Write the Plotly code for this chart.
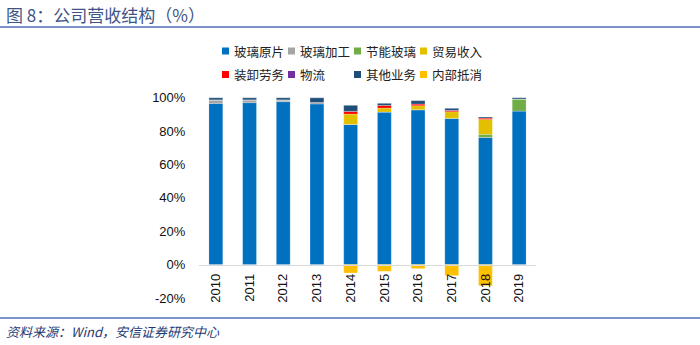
import plotly.graph_objects as go

# Revenue structure by business segment, share of total revenue (%)
years = ["2010", "2011", "2012", "2013", "2014", "2015", "2016", "2017", "2018", "2019"]
glass_sheet = [96.5, 97.0, 97.6, 96.2, 84.0, 91.4, 92.8, 87.6, 76.2, 92.0]
glass_processing = [2.2, 1.7, 1.1, 0.9, 0.0, 0.0, 0.0, 0.0, 0.0, 0.0]
energy_saving_glass = [0.0, 0.0, 0.0, 0.0, 0.0, 0.0, 0.0, 0.0, 1.8, 7.2]
trade_income = [0.0, 0.0, 0.0, 0.0, 6.2, 2.4, 2.4, 4.0, 9.0, 0.0]
loading_services = [0.0, 0.0, 0.0, 0.0, 1.6, 1.6, 1.0, 0.8, 0.8, 0.0]
logistics = [0.0, 0.0, 0.0, 0.0, 0.0, 0.0, 0.0, 0.0, 0.0, 0.0]
other_business = [1.3, 1.3, 1.3, 2.9, 3.6, 1.2, 2.0, 1.2, 0.6, 0.8]
internal_offset = [0.0, 0.0, 0.0, 0.0, -5.0, -4.0, -2.4, -6.6, -12.6, 0.0]

series_names = ["玻璃原片", "玻璃加工", "节能玻璃", "贸易收入",
                "装卸劳务", "物流", "其他业务", "内部抵消"]
series_values = [glass_sheet, glass_processing, energy_saving_glass, trade_income,
                 loading_services, logistics, other_business, internal_offset]
series_colors = ["#0070C0", "#A5A5A5", "#70AD47", "#E2C000",
                 "#FF0000", "#7030A0", "#1F4E79", "#FFC000"]

y_ticks = [-20, 0, 20, 40, 60, 80, 100]
y_tick_labels = ["-20%", "0%", "20%", "40%", "60%", "80%", "100%"]
y_range = [-20, 101]

W, H = 700, 345
L, R, T, B = 199, 164, 96, 47
PW, PH = W - L - R, H - T - B


def px_x(p):
    return (p - L) / PW


def px_y(p):
    return 1 - (p - T) / PH


fig = go.Figure()
for name, vals, col in zip(series_names, series_values, series_colors):
    fig.add_trace(go.Bar(
        x=years, y=vals, name=name,
        marker=dict(color=col, line=dict(color="rgba(255,255,255,0.5)", width=0.4)),
        showlegend=False,
    ))

zero_pos = (0 - y_range[0]) / (y_range[1] - y_range[0])

fig.update_layout(
    width=W, height=H,
    margin=dict(l=L, r=R, t=T, b=B),
    barmode="relative",
    bargap=0.59,
    plot_bgcolor="white",
    paper_bgcolor="white",
    font=dict(family="Liberation Sans, Arial, sans-serif", size=13, color="#222222"),
    xaxis=dict(
        type="category",
        anchor="free", position=zero_pos,
        showline=True, linecolor="#D9D9D9", linewidth=1,
        showgrid=False, tickangle=-90,
        ticks="outside", ticklen=3, tickcolor="rgba(0,0,0,0)",
        tickfont=dict(size=13, color="#111111"),
    ),
    yaxis=dict(
        range=y_range, tickmode="array", tickvals=y_ticks, ticktext=y_tick_labels,
        showgrid=False, zeroline=False, showline=False,
        ticks="outside", ticklen=10, tickcolor="rgba(0,0,0,0)",
        tickfont=dict(size=13, color="#111111"),
    ),
)

# Legend: two rows of four entries
shapes = []
annotations = []
for i, (name, col) in enumerate(zip(series_names, series_colors)):
    r, c = divmod(i, 4)
    x0 = 222 + 66 * c
    yc = 51 + 23.5 * r
    shapes.append(dict(type="rect", xref="paper", yref="paper",
                       x0=px_x(x0), x1=px_x(x0 + 7),
                       y0=px_y(yc + 3.5), y1=px_y(yc - 3.5),
                       fillcolor=col, line=dict(width=0)))
    annotations.append(dict(xref="paper", yref="paper", x=px_x(x0 + 10), y=px_y(yc),
                            xanchor="left", yanchor="middle", showarrow=False,
                            text=name,
                            font=dict(family="Noto Sans CJK SC", size=12.5, color="#222222")))

# Header and footer rules
for yy in (27, 318):
    shapes.append(dict(type="line", xref="paper", yref="paper",
                       x0=px_x(0), x1=px_x(W), y0=px_y(yy), y1=px_y(yy),
                       line=dict(color="#4F6FB5", width=1.5)))

annotations.append(dict(xref="paper", yref="paper", x=px_x(4), y=px_y(14),
                        xanchor="left", yanchor="middle", showarrow=False,
                        text="图 8：公司营收结构（%）",
                        font=dict(family="Noto Sans CJK SC", size=17, color="#3E5486")))
annotations.append(dict(xref="paper", yref="paper", x=px_x(4), y=px_y(331),
                        xanchor="left", yanchor="middle", showarrow=False,
                        text="<i>资料来源：Wind，安信证券研究中心</i>",
                        font=dict(family="Noto Sans CJK SC", size=13, color="#1F3A73")))

fig.update_layout(shapes=shapes, annotations=annotations)
fig.write_html("out.html")
